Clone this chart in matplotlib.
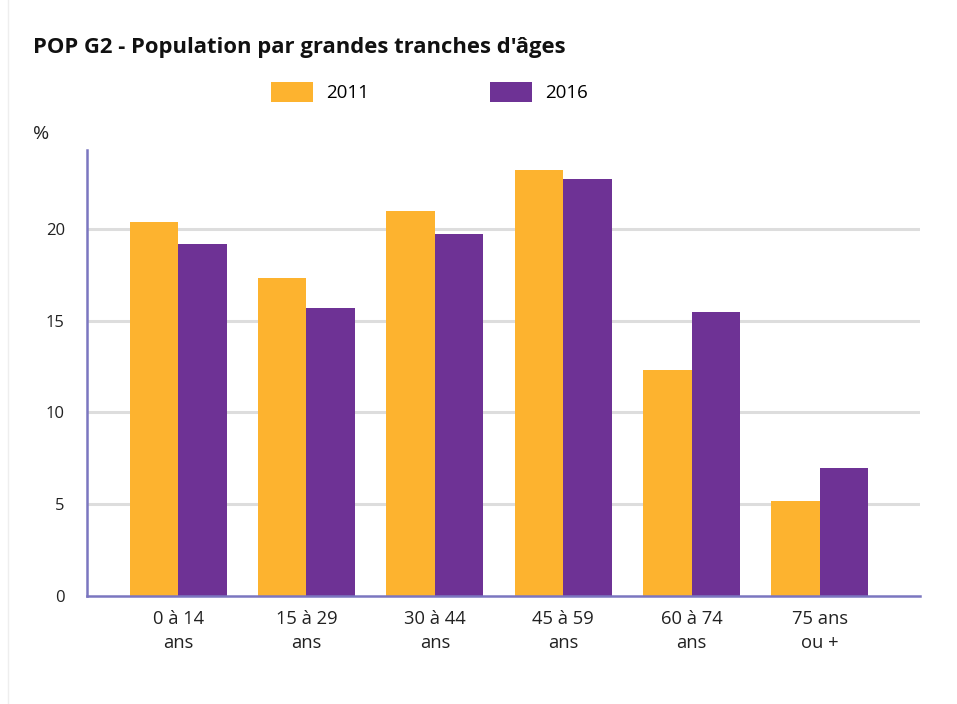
import matplotlib
matplotlib.use("Agg")
import matplotlib.pyplot as plt
import numpy as np
from matplotlib.lines import Line2D

categories = ["0 à 14\nans", "15 à 29\nans", "30 à 44\nans", "45 à 59\nans", "60 à 74\nans", "75 ans\nou +"]
series_names = ["2011", "2016"]
values_2011 = [20.4, 17.3, 21.0, 23.2, 12.3, 5.2]
values_2016 = [19.2, 15.7, 19.7, 22.7, 15.5, 6.95]
yticks = [0, 5, 10, 15, 20]

c2011 = "#FDB32F"
c2016 = "#6E3295"
axis_col = "#7B76C0"
grid_col = "#DDDDDD"

plt.rcParams["font.family"] = ["Open Sans", "DejaVu Sans"]

fig = plt.figure(figsize=(9.57, 7.04), dpi=100)
ax = fig.add_axes([87/957, 1 - 596/704, (920-87)/957, (596-150)/704])

x = np.arange(len(categories))
w = 0.378
b1 = ax.bar(x - w/2, values_2011, width=w, color=c2011, label=series_names[0], zorder=2)
b2 = ax.bar(x + w/2, values_2016, width=w, color=c2016, label=series_names[1], zorder=2)

ax.set_xlim(-0.71, 5.78)
ax.set_ylim(0, 24.3)
ax.set_yticks(yticks)
ax.set_yticklabels([str(t) for t in yticks], fontsize=12, color="#222222")
ax.set_xticks(x)
ax.set_xticklabels(categories, fontsize=13.2, color="#222222", linespacing=1.45)
ax.tick_params(axis="both", length=0)
ax.tick_params(axis="y", pad=16)
ax.tick_params(axis="x", pad=10)

for yv in yticks[1:]:
    ax.axhline(yv, color=grid_col, lw=2.2, zorder=1)

for s in ["top", "right"]:
    ax.spines[s].set_visible(False)
ax.spines["left"].set_color(axis_col)
ax.spines["left"].set_linewidth(1.8)
ax.spines["bottom"].set_color(axis_col)
ax.spines["bottom"].set_linewidth(1.8)
ax.spines["left"].set_zorder(3)
ax.spines["bottom"].set_zorder(3)

fig.text(33/957, 1 - 47/704, "POP G2 - Population par grandes tranches d'âges",
         fontsize=15.8, fontweight="bold", color="#111111", va="center", ha="left")
fig.text(33/957, 1 - 134/704, "%", fontsize=14, color="#222222", va="center", ha="left")

leg = fig.legend(handles=[b1, b2], labels=series_names, loc="center",
                 bbox_to_anchor=(429/957, 1 - 92/704), ncol=2, frameon=False,
                 fontsize=13.5, handlelength=2.24, handleheight=1.28,
                 handletextpad=0.7, columnspacing=6.45)

fig.add_artist(Line2D([8/957, 8/957], [0, 1], color="#EEEEEE", lw=1.0))

fig.savefig("out.png", dpi=100, facecolor="white")
